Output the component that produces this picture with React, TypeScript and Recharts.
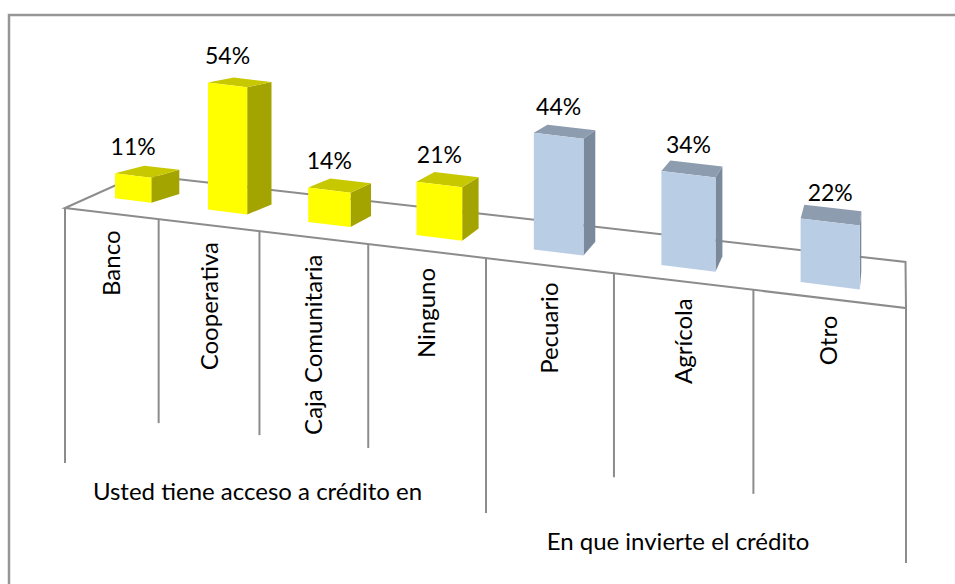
import { BarChart, Bar, XAxis, YAxis, LabelList, Customized } from 'recharts'

const accessCategories = ['Banco', 'Cooperativa', 'Caja Comunitaria', 'Ninguno']
const accessValues = [11, 54, 14, 21]
const investCategories = ['Pecuario', 'Agrícola', 'Otro']
const investValues = [44, 34, 22]
const groupTitles = ['Usted tiene acceso a crédito en', 'En que invierte el crédito']

const groupSizes = [accessCategories.length, investCategories.length]
const data = [
    ...accessCategories.map((name, i) => ({ name, value: accessValues[i], group: 0 })),
    ...investCategories.map((name, i) => ({ name, value: investValues[i], group: 1 })),
]

const W = 955
const H = 584
const PLOT_LEFT = 65
const PLOT_WIDTH = 841
const FLAT_TOP = 20
const FLAT_HEIGHT = 178
const AXIS_H = 30
const FONT = 'Lato, "Open Sans", sans-serif'
const LINE = '#8c8c8c'

const palettes = [
    { front: '#ffff00', top: '#c8c800', side: '#a4a400' },
    { front: '#b9cde5', top: '#8d9caf', side: '#7a899c' },
]

// fake Excel-style perspective: the category axis recedes to the left
const C = 0.33
const toT = (x: number) => (x - PLOT_LEFT) / PLOT_WIDTH
const depthW = (t: number) => 1 + C * (1 - t)
const projX = (t: number) => PLOT_LEFT + (PLOT_WIDTH * t) / depthW(t)
const frontY = (X: number) => 208 + (X - PLOT_LEFT) * 0.1189

const barDepth = (x: number, y: number) => {
    const b = 0.037 + (x - 248) * 0.0000238
    return [0.0373 * (900 - x), -b * (y + 51)]
}
const floorDepth = (x: number, y: number) => [0.0886 * (900 - x), -0.128 * (y + 51)]

type Pt = [number, number]
const add = (p: Pt, d: number[]): Pt => [p[0] + d[0], p[1] + d[1]]
const poly = (pts: Pt[]) => pts.map((p) => `${p[0].toFixed(1)},${p[1].toFixed(1)}`).join(' ')

function boxGeometry(x: number, width: number, height: number) {
    const tl = toT(x)
    const tr = toT(x + width)
    const h = height / depthW((tl + tr) / 2)
    const base = (t: number): Pt => {
        const X = projX(t)
        return [X + 0.75 * barDepth(X, 0)[0], frontY(X) - 13]
    }
    const bl = base(tl)
    const br = base(tr)
    const tlp: Pt = [bl[0], bl[1] - h]
    const trp: Pt = [br[0], br[1] - h]
    return { bl, br, tl: tlp, tr: trp }
}

function Box3D(props: any) {
    const { x, width, height, payload } = props
    if (width == null || height == null) return null
    const g = boxGeometry(x, width, height)
    const pal = palettes[payload.group]
    const back = (p: Pt) => add(p, barDepth(p[0], p[1]))
    const side = [g.br, g.tr, back(g.tr), back(g.br)] as Pt[]
    const top = [g.tl, g.tr, back(g.tr), back(g.tl)] as Pt[]
    const front = [g.bl, g.br, g.tr, g.tl] as Pt[]
    return (
        <g>
            {back(g.tr)[0] > g.tr[0] && <polygon points={poly(side)} fill={pal.side} />}
            <polygon points={poly(top)} fill={pal.top} />
            <polygon points={poly(front)} fill={pal.front} />
        </g>
    )
}

function ValueLabel(props: any) {
    const { x, width, height, value } = props
    const g = boxGeometry(x, width, height)
    const cx = (g.tl[0] + g.tr[0]) / 2
    const cy = (g.tl[1] + g.tr[1]) / 2
    return (
        <text x={cx} y={cy - 21} textAnchor="middle" fontFamily={FONT} fontSize={23} fill="#000">
            {`${value}%`}
        </text>
    )
}

function CategoryTick(props: any) {
    const { x, payload } = props
    const X = projX(toT(x))
    const y = frontY(X) + 17
    return (
        <text
            x={X}
            y={y}
            transform={`rotate(-90 ${X} ${y})`}
            textAnchor="end"
            dominantBaseline="central"
            fontFamily={FONT}
            fontSize={24}
            fill="#000"
        >
            {payload.value}
        </text>
    )
}

function Scene() {
    const n = data.length
    const fl: Pt = [projX(0), frontY(projX(0))]
    const fr: Pt = [projX(1), frontY(projX(1))]
    const bl = add(fl, floorDepth(fl[0], fl[1]))
    const br = add(fr, floorDepth(fr[0], fr[1]))

    const groupEdges = [0]
    groupSizes.forEach((s) => groupEdges.push(groupEdges[groupEdges.length - 1] + s))

    const dividers = []
    for (let k = 0; k <= n; k++) {
        const X = projX(k / n)
        const top = frontY(X)
        const len = groupEdges.includes(k) ? 255 : 204
        dividers.push(<line key={k} x1={X} y1={top} x2={X} y2={top + len} stroke={LINE} strokeWidth={2} />)
    }

    const titles = groupTitles.map((title, gi) => {
        const x0 = projX(groupEdges[gi] / n)
        const x1 = projX(groupEdges[gi + 1] / n)
        const cx = (x0 + x1) / 2
        return (
            <text
                key={title}
                x={cx - 18}
                y={frontY(cx) + 257}
                textAnchor="middle"
                dominantBaseline="central"
                fontFamily={FONT}
                fontSize={24}
                fill="#000"
            >
                {title}
            </text>
        )
    })

    return (
        <g>
            <rect x={9} y={15} width={1000} height={1000} fill="#fff" stroke="#969696" strokeWidth={2.5} />
            <polygon points={poly([fl, fr, br, bl])} fill="none" stroke={LINE} strokeWidth={2} />
            {dividers}
            {titles}
        </g>
    )
}

export default function App() {
    return (
        <div style={{ position: 'absolute', left: 0, top: 0, width: W, height: H, background: '#fff' }}>
            <BarChart
                width={W}
                height={H}
                data={data}
                margin={{ top: FLAT_TOP, left: PLOT_LEFT, right: W - PLOT_LEFT - PLOT_WIDTH, bottom: H - FLAT_TOP - FLAT_HEIGHT - AXIS_H }}
                barCategoryGap="30%"
            >
                <Customized component={<Scene />} />
                <XAxis dataKey="name" height={AXIS_H} axisLine={false} tickLine={false} interval={0} tick={<CategoryTick />} />
                <YAxis hide domain={[0, 60]} />
                <Bar dataKey="value" shape={<Box3D />} isAnimationActive={false}>
                    <LabelList dataKey="value" content={<ValueLabel />} />
                </Bar>
            </BarChart>
        </div>
    )
}
